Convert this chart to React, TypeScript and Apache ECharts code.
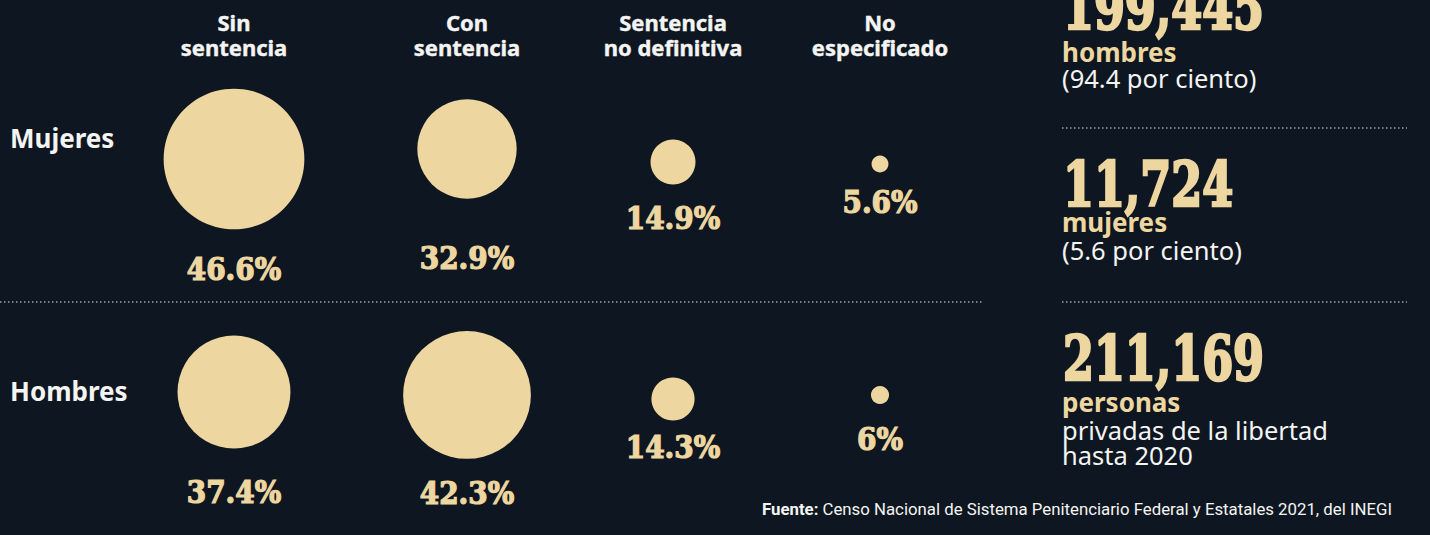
import React, { useEffect, useRef } from 'react';
import * as echarts from 'echarts';

// ---- data ----
const columns = ['Sin\nsentencia', 'Con\nsentencia', 'Sentencia\nno definitiva', 'No\nespecificado'];
const rows = ['Mujeres', 'Hombres'];
const mujeresPct = [46.6, 32.9, 14.9, 5.6];
const hombresPct = [37.4, 42.3, 14.3, 6];
const totals = [199445, 11724, 211169];
const totalWords = ['hombres', 'mujeres', 'personas'];
const totalNotes = ['(94.4 por ciento)', '(5.6 por ciento)', 'privadas de la libertad\nhasta 2020'];
const sourceLabel = 'Fuente:';
const sourceText = 'Censo Nacional de Sistema Penitenciario Federal y Estatales 2021, del INEGI';

// ---- layout / style ----
const BG = '#0e1721';
const BEIGE = '#edd6a0';
const WHITE = '#f4f4f2';
const DOT = '#9a9fa6';
const SANS = '"Noto Sans", "Open Sans", sans-serif';
const SLAB = '"DejaVu Serif Condensed", "DejaVu Serif", serif';
const colCenters = [234, 467, 673, 880];
const gridHalf = 95;
const rowTop = 159;
const rowGap = 236;
const PX_PER_PCT = 3.02;
// small hand-layout nudges (vertical) per row / column, as in the original artwork
const circleNudge = [
  [0, -10, 3, 5],
  [-3, 0, 4, 0],
];
const labelGap = [
  [24, 44, 18, 14],
  [28, 19, 11, 19],
];

export default function App() {
  const ref = useRef<HTMLDivElement>(null);
  useEffect(() => {
    document.body.style.margin = '0';
    if (!ref.current) return;
    const chart = echarts.init(ref.current, undefined, { renderer: 'svg' });

    const grids = colCenters.map((c) => ({
      left: c - gridHalf,
      width: gridHalf * 2,
      top: rowTop,
      height: rowGap,
      outerBoundsMode: 'none',
      containLabel: false,
    }));

    const xAxes = columns.map((col, i) => ({
      type: 'category',
      gridIndex: i,
      data: [col],
      position: 'top',
      axisLine: { show: false },
      axisTick: { show: false },
      splitLine: { show: false },
      axisLabel: {
        margin: 100,
        color: WHITE,
        fontFamily: SANS,
        fontWeight: 'bold',
        fontSize: 22,
        lineHeight: 25,
        interval: 0,
        textBorderColor: WHITE,
        textBorderWidth: 0.4,
      },
    }));

    const yAxes = columns.map((_, i) => ({
      type: 'category',
      gridIndex: i,
      data: rows,
      inverse: true,
      boundaryGap: false,
      axisLine: { show: false },
      axisTick: { show: false },
      splitLine: { show: false },
      axisLabel: {
        show: i === 0,
        align: 'left',
        margin: colCenters[0] - gridHalf - 10,
        color: WHITE,
        fontFamily: SANS,
        fontWeight: 'bold',
        fontSize: 26,
        formatter: (v: string) => (v === rows[0] ? `{up|${v}}` : `{dn|${v}}`),
        rich: {
          up: { color: WHITE, fontFamily: SANS, fontWeight: 'bold', fontSize: 26, padding: [0, 0, 42, 0] },
          dn: { color: WHITE, fontFamily: SANS, fontWeight: 'bold', fontSize: 26, padding: [0, 0, 8, 0] },
        },
      },
    }));

    const series = columns.map((_, i) => ({
      type: 'scatter',
      xAxisIndex: i,
      yAxisIndex: i,
      data: [mujeresPct[i], hombresPct[i]].map((v, r) => ({
        value: [0, r, v],
        symbolOffset: [0, circleNudge[r][i]],
        label: { distance: labelGap[r][i] },
      })),
      symbol: 'circle',
      symbolSize: (v: number[]) => v[2] * PX_PER_PCT,
      itemStyle: { color: BEIGE, opacity: 1 },
      label: {
        show: true,
        position: 'bottom',
        formatter: (p: any) => `${p.value[2]}%`,
        color: BEIGE,
        fontFamily: SLAB,
        fontWeight: 'bold',
        fontSize: 31,
        textBorderColor: BEIGE,
        textBorderWidth: 1.2,
      },
      emphasis: { disabled: true },
    }));

    const rightX = 1062;
    const bigY = [8, 185, 359];
    const wordY = [52, 222, 402];
    const noteY = [78, 250, 430];

    const dotted = { stroke: DOT, lineWidth: 1.5, lineDash: [1.5, 2.5] };
    const graphics: any[] = [
      { type: 'line', shape: { x1: 0, y1: 302, x2: 982, y2: 302 }, style: dotted },
      { type: 'line', shape: { x1: rightX, y1: 128, x2: 1407, y2: 128 }, style: dotted },
      { type: 'line', shape: { x1: rightX, y1: 302, x2: 1407, y2: 302 }, style: dotted },
    ];
    totals.forEach((t, i) => {
      graphics.push({
        type: 'text',
        x: rightX + 1,
        y: bigY[i],
        scaleX: 0.81,
        style: {
          text: t.toLocaleString('en-US'),
          fill: BEIGE,
          stroke: BEIGE,
          lineWidth: 2.5,
          fontFamily: SLAB,
          fontWeight: 'bold',
          fontSize: 61,
          lineHeight: 46,
          align: 'left',
          verticalAlign: 'middle',
        },
      });
      graphics.push({
        type: 'text',
        x: rightX,
        y: wordY[i],
        style: {
          text: totalWords[i],
          fill: BEIGE,
          fontFamily: SANS,
          fontWeight: 'bold',
          fontSize: 26,
          lineHeight: 20,
          align: 'left',
          verticalAlign: 'middle',
        },
      });
      graphics.push({
        type: 'text',
        x: rightX,
        y: noteY[i] - 12.5,
        style: {
          text: totalNotes[i],
          fill: WHITE,
          fontFamily: SANS,
          fontSize: 25.5,
          lineHeight: 25,
          align: 'left',
          verticalAlign: 'top',
        },
      });
    });
    graphics.push({
      type: 'text',
      x: 762,
      y: 509,
      style: {
        text: `{b|${sourceLabel}} ${sourceText}`,
        fill: WHITE,
        fontFamily: 'Roboto, sans-serif',
        fontSize: 16.8,
        align: 'left',
        verticalAlign: 'middle',
        rich: {
          b: { fontFamily: 'Roboto, sans-serif', fontWeight: 'bold', fontSize: 16.8, fill: WHITE },
        },
      },
    });

    chart.setOption({
      animation: false,
      backgroundColor: BG,
      grid: grids,
      xAxis: xAxes,
      yAxis: yAxes,
      series,
      graphic: graphics,
    });
    return () => chart.dispose();
  }, []);
  return <div ref={ref} style={{ width: 1430, height: 535 }} />;
}
